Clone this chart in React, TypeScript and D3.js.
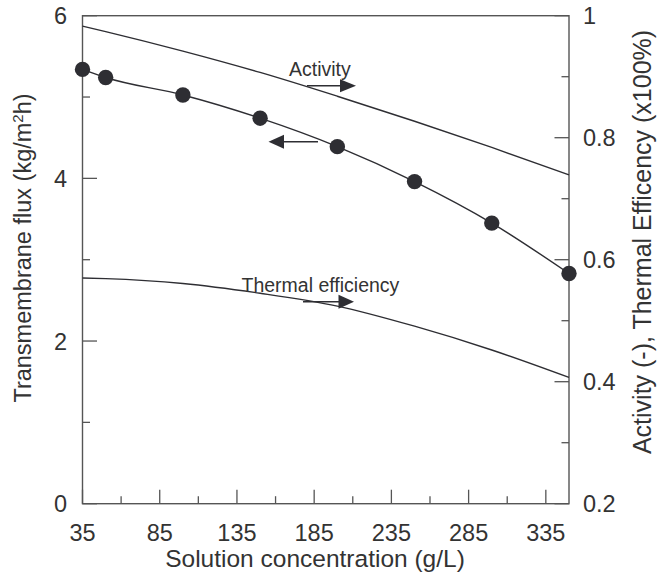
import React from "react";
import * as d3 from "d3";

const fluxConc = [35, 50, 100, 150, 200, 250, 300, 350];
const fluxValues = [5.34, 5.24, 5.025, 4.74, 4.39, 3.96, 3.45, 2.83];

const curveConc = [35, 50, 100, 150, 200, 250, 300, 350];
const activityValues = [0.983, 0.974, 0.942, 0.907, 0.868, 0.827, 0.784, 0.739];
const thermalValues = [0.570, 0.569, 0.561, 0.545, 0.524, 0.491, 0.452, 0.407];

const xMajorTicks = [35, 85, 135, 185, 235, 285, 335];
const xMinorTicks = [60, 110, 160, 210, 260, 310];
const yLeftMajor = [0, 2, 4, 6];
const yLeftMinor = [1, 3, 5];
const yRightMajor = [0.2, 0.4, 0.6, 0.8, 1];
const yRightMinor = [0.3, 0.5, 0.7, 0.9];

const W = 663, H = 576;
const L = 82.5, R = 569, T = 15.7, B = 503.7;
const AX = "#555";
const INK = "#2e2e33";
const FONT = "'Liberation Sans', Arial, Helvetica, sans-serif";

export default function App() {
  const x = d3.scaleLinear().domain([35, 350]).range([L, R]);
  const yL = d3.scaleLinear().domain([0, 6]).range([B, T]);
  const yR = d3.scaleLinear().domain([0.2, 1]).range([B, T]);

  const fluxLine = d3.line<number>()
    .x((_, i) => x(fluxConc[i]))
    .y((d) => yL(d))
    .curve(d3.curveMonotoneX);
  const rLine = d3.line<number>()
    .x((_, i) => x(curveConc[i]))
    .y((d) => yR(d))
    .curve(d3.curveMonotoneX);

  const fmtR = (v: number) => (v === 1 ? "1" : d3.format(".1f")(v));

  const arrowRight = (x0: number, x1: number, tip: number, y: number, h: number) => (
    <g>
      <line x1={x0} x2={x1 + 2} y1={y} y2={y} stroke={INK} strokeWidth={1.5} />
      <path d={`M${x1},${y - h / 2}L${tip},${y}L${x1},${y + h / 2}Z`} fill={INK} />
    </g>
  );
  const arrowLeft = (x0: number, x1: number, tip: number, y: number, h: number) => (
    <g>
      <line x1={x0} x2={x1 - 2} y1={y} y2={y} stroke={INK} strokeWidth={1.5} />
      <path d={`M${x1},${y - h / 2}L${tip},${y}L${x1},${y + h / 2}Z`} fill={INK} />
    </g>
  );

  return (
    <svg width={W} height={H} style={{ position: "absolute", left: 0, top: 0, background: "#fff" }} fontFamily={FONT}>
      <rect x={0} y={0} width={W} height={H} fill="#fff" />
      {/* frame */}
      <rect x={L} y={T} width={R - L} height={B - T} fill="none" stroke={AX} strokeWidth={1.4} />
      {/* x ticks */}
      {xMajorTicks.map((t) => (
        <line key={"xM" + t} x1={x(t)} x2={x(t)} y1={B} y2={B - 14} stroke={AX} strokeWidth={1.3} />
      ))}
      {xMinorTicks.map((t) => (
        <line key={"xm" + t} x1={x(t)} x2={x(t)} y1={B} y2={B - 7.5} stroke={AX} strokeWidth={1.3} />
      ))}
      {xMajorTicks.map((t) => (
        <text key={"xl" + t} x={x(t)} y={541} textAnchor="middle" fontSize={23.5} fill="#333">{t}</text>
      ))}
      {/* left ticks */}
      {yLeftMajor.map((t) => (
        <line key={"lM" + t} x1={L} x2={L + 14.5} y1={yL(t)} y2={yL(t)} stroke={AX} strokeWidth={1.3} />
      ))}
      {yLeftMinor.map((t) => (
        <line key={"lm" + t} x1={L} x2={L + 7.5} y1={yL(t)} y2={yL(t)} stroke={AX} strokeWidth={1.3} />
      ))}
      {yLeftMajor.map((t) => (
        <text key={"ll" + t} x={67} y={yL(t) + 8.5} textAnchor="end" fontSize={23.5} fill="#333">{t}</text>
      ))}
      {/* right ticks */}
      {yRightMajor.map((t) => (
        <line key={"rM" + t} x1={R} x2={R - 14.5} y1={yR(t)} y2={yR(t)} stroke={AX} strokeWidth={1.3} />
      ))}
      {yRightMinor.map((t) => (
        <line key={"rm" + t} x1={R} x2={R - 7.5} y1={yR(t)} y2={yR(t)} stroke={AX} strokeWidth={1.3} />
      ))}
      {yRightMajor.map((t) => (
        <text key={"rl" + t} x={583} y={yR(t) + 8.5} textAnchor="start" fontSize={23.5} fill="#333">{fmtR(t)}</text>
      ))}
      {/* axis titles */}
      <text x={315} y={567} textAnchor="middle" fontSize={24.5} fill="#333">Solution concentration (g/L)</text>
      <text transform={`translate(31,248) rotate(-90)`} textAnchor="middle" fontSize={23.5} fill="#333">
        Transmembrane flux (kg/m<tspan baselineShift="super" fontSize={15}>2</tspan>h)
      </text>
      <text transform={`translate(651,242) rotate(-90)`} textAnchor="middle" fontSize={25} fill="#333">
        Activity (-), Thermal Efficency (x100%)
      </text>
      {/* curves */}
      <path d={rLine(activityValues) || ""} fill="none" stroke={INK} strokeWidth={1.4} />
      <path d={rLine(thermalValues) || ""} fill="none" stroke={INK} strokeWidth={1.4} />
      <path d={fluxLine(fluxValues) || ""} fill="none" stroke={INK} strokeWidth={1.4} />
      {fluxValues.map((v, i) => (
        <circle key={"p" + i} cx={x(fluxConc[i])} cy={yL(v)} r={7.7} fill={INK} />
      ))}
      {/* annotations */}
      <text x={289} y={76} fontSize={19.5} fill="#333">Activity</text>
      {arrowRight(307, 340, 356, 85.7, 13)}
      {arrowLeft(318, 284, 268.5, 141.7, 14)}
      <text x={241.5} y={292.3} fontSize={19.5} fill="#333">Thermal efficiency</text>
      {arrowRight(303, 338.5, 354, 301.7, 14)}
    </svg>
  );
}
